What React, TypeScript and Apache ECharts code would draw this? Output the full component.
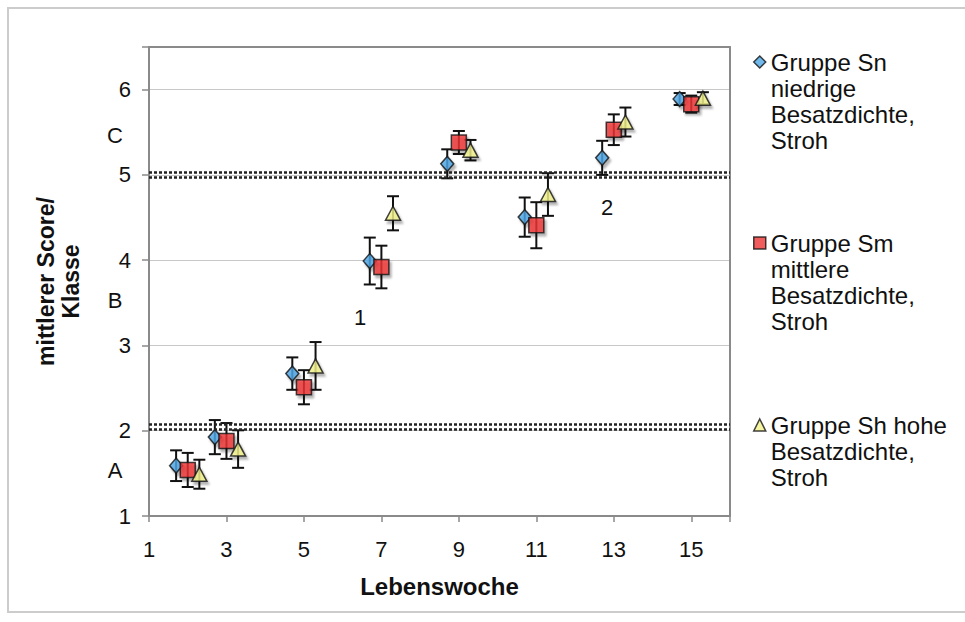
import React, { useEffect, useRef } from "react";
import * as echarts from "echarts";

// ---- data ----
const WEEKS = [2, 3, 5, 7, 9, 11, 13, 15];
const SERIES_NAMES = [
  "Gruppe Sn\nniedrige\nBesatzdichte,\nStroh",
  "Gruppe Sm\nmittlere\nBesatzdichte,\nStroh",
  "Gruppe Sh hohe\nBesatzdichte,\nStroh",
];
const SN_MEAN = [1.59, 1.925, 2.67, 3.99, 5.13, 4.505, 5.2, 5.89];
const SN_ERR = [0.18, 0.2, 0.19, 0.275, 0.17, 0.23, 0.2, 0.07];
const SM_MEAN = [1.54, 1.88, 2.51, 3.92, 5.38, 4.41, 5.53, 5.83];
const SM_ERR = [0.2, 0.21, 0.2, 0.25, 0.135, 0.27, 0.18, 0.1];
const SH_MEAN = [1.49, 1.785, 2.76, 4.55, 5.29, 4.77, 5.62, 5.9];
const SH_ERR = [0.17, 0.22, 0.28, 0.2, 0.12, 0.25, 0.17, 0.07];
const X_TICKS_HIDDEN = [16];
const Y_TICKS_HIDDEN = [6.5];
const CLASS_BOUNDARY_LINES = [5.03, 4.97, 2.08, 2.02];
const CLASS_LABELS = ["A", "B", "C"];
const NOTE_LABELS = ["1", "2"];
const NOTE_X = [6.45, 12.83];
const NOTE_Y = [3.33, 4.62];

const FONT = "'Liberation Sans', Arial, Helvetica, sans-serif";
const GROUP_OFFSET = 0.3;

export default function App() {
  const ref = useRef<HTMLDivElement>(null);
  useEffect(() => {
    if (!ref.current) return;
    const chart = echarts.init(ref.current, undefined, { renderer: "svg" });

    const means = [SN_MEAN, SM_MEAN, SH_MEAN];
    const errs = [SN_ERR, SM_ERR, SH_ERR];
    const offsets = [-GROUP_OFFSET, 0, GROUP_OFFSET];
    const symbols = ["diamond", "rect", "triangle"];
    const sizes: any[] = [[13, 15], 15, [15, 14]];
    const colors = ["#4ea6e6", "#ee3333", "#f3f38c"];

    const errSeries = means.map((m, si) => ({
      type: "custom",
      name: "err" + si,
      z: 2,
      silent: true,
      encode: { x: 0, y: [1, 2] },
      data: WEEKS.map((w, i) => [w + offsets[si], m[i] - errs[si][i], m[i] + errs[si][i]]),
      renderItem: (params: any, api: any) => {
        const x = api.value(0);
        const lo = api.value(1);
        const hi = api.value(2);
        const t = api.coord([x, hi]);
        const b = api.coord([x, lo]);
        const hw = 6;
        const st = { stroke: "#111", lineWidth: 2 };
        return {
          type: "group",
          children: [
            { type: "line", shape: { x1: t[0], y1: t[1], x2: b[0], y2: b[1] }, style: st },
            { type: "line", shape: { x1: t[0] - hw, y1: t[1], x2: t[0] + hw, y2: t[1] }, style: st },
            { type: "line", shape: { x1: b[0] - hw, y1: b[1], x2: b[0] + hw, y2: b[1] }, style: st },
          ],
        };
      },
    }));

    const scatterSeries: any[] = means.map((m, si) => ({
      type: "scatter",
      name: SERIES_NAMES[si],
      z: 3,
      symbol: symbols[si],
      symbolSize: sizes[si],
      itemStyle: {
        color: colors[si],
        borderColor: "#111",
        borderWidth: 1.5,
        shadowColor: "rgba(0,0,0,0.35)",
        shadowBlur: 2,
        shadowOffsetX: 2,
        shadowOffsetY: 3,
      },
      data: WEEKS.map((w, i) => [w + offsets[si], m[i]]),
    }));

    scatterSeries[0].markLine = {
      silent: true,
      symbol: "none",
      label: { show: false },
      lineStyle: { color: "#222", width: 2.5, type: [3, 2] },
      data: CLASS_BOUNDARY_LINES.map((v) => ({ yAxis: v })),
    };
    scatterSeries[0].markPoint = {
      silent: true,
      symbol: "circle",
      symbolSize: 0,
      label: {
        show: true,
        position: "inside",
        color: "#111",
        fontSize: 22,
        fontFamily: FONT,
        formatter: (p: any) => p.name,
      },
      data: NOTE_LABELS.map((n, i) => ({ name: n, coord: [NOTE_X[i], NOTE_Y[i]] })),
    };

    // leading blank lines keep the first text line level with the icon
    const legendFormatter = (name: string) => {
      const n = name.split("\n").length;
      return "\n".repeat(n - 1) + name;
    };
    const legendBase = {
      orient: "vertical",
      left: 753,
      padding: 0,
      itemWidth: 12,
      itemHeight: 12,
      selectedMode: false,
      formatter: legendFormatter,
      itemStyle: { shadowColor: "transparent", borderWidth: 1.5, borderColor: "#111" },
      textStyle: { fontSize: 24, lineHeight: 26, fontFamily: FONT, color: "#111" },
    };
    const LINE_H = 26;
    const iconCenters = [62, 243, 425];
    const legends = SERIES_NAMES.map((n, i) => {
      const lines = n.split("\n").length;
      const blockH = (2 * lines - 1) * LINE_H;
      return {
        ...legendBase,
        top: iconCenters[i] - blockH / 2,
        data: [{ name: n }],
      };
    });

    const classY = [470, 300, 135];

    chart.setOption({
      animation: false,
      backgroundColor: "#ffffff",
      textStyle: { fontFamily: FONT },
      grid: { left: 149, right: 235, top: 47, bottom: 106, show: true, backgroundColor: "#fff", borderWidth: 0 },
      legend: legends,
      xAxis: [
        {
          type: "value",
          min: 1,
          max: 16,
          interval: 2,
          name: "Lebenswoche",
          nameLocation: "middle",
          nameGap: 58,
          nameTextStyle: { fontSize: 24, fontWeight: "bold", color: "#111", fontFamily: FONT },
          axisLine: { show: true, lineStyle: { color: "#8a8a8a", width: 2 } },
          axisTick: { show: true, length: 6, lineStyle: { color: "#8a8a8a", width: 1.5 } },
          axisLabel: {
            margin: 22,
            fontSize: 22,
            color: "#111",
            fontFamily: FONT,
            formatter: (v: number) => (X_TICKS_HIDDEN.includes(v) ? "" : String(v)),
          },
          splitLine: { show: false },
        },
        {
          type: "value",
          position: "top",
          min: 1,
          max: 16,
          axisLine: { show: true, lineStyle: { color: "#8a8a8a", width: 2 } },
          axisTick: { show: false },
          axisLabel: { show: false },
          splitLine: { show: false },
        },
      ],
      yAxis: [
        {
          type: "value",
          min: 1,
          max: 6.5,
          interval: 1,
          name: "mittlerer Score/\nKlasse",
          nameLocation: "middle",
          nameRotate: 90,
          nameGap: 66,
          nameTextStyle: {
            fontSize: 23,
            fontWeight: "bold",
            lineHeight: 25,
            color: "#111",
            fontFamily: FONT,
            align: "center",
          },
          axisLine: { show: true, lineStyle: { color: "#8a8a8a", width: 2 } },
          axisTick: { show: true, length: 7, lineStyle: { color: "#8a8a8a", width: 1.5 } },
          axisLabel: {
            margin: 18,
            fontSize: 22,
            color: "#111",
            fontFamily: FONT,
            formatter: (v: number) => (Y_TICKS_HIDDEN.includes(v) ? "" : String(v)),
          },
          splitLine: { show: true, lineStyle: { color: "#c8c8c8", width: 1.2 } },
        },
        {
          type: "value",
          position: "right",
          min: 1,
          max: 6.5,
          axisLine: { show: true, lineStyle: { color: "#8a8a8a", width: 2 } },
          axisTick: { show: false },
          axisLabel: { show: false },
          splitLine: { show: false },
        },
      ],
      graphic: [
        {
          type: "rect",
          z: -10,
          silent: true,
          shape: { x: 8, y: 8, width: 1000, height: 604 },
          style: { fill: "none", stroke: "#cccccc", lineWidth: 2 },
        },
        ...CLASS_LABELS.map((c, i) => ({
          type: "text",
          silent: true,
          x: 115,
          y: classY[i],
          style: {
            text: c,
            fontSize: 22,
            fontFamily: FONT,
            fill: "#111",
            textAlign: "center",
            textVerticalAlign: "middle",
          },
        })),
      ],
      series: [...errSeries, ...scatterSeries],
    });

    return () => chart.dispose();
  }, []);

  return (
    <div
      ref={ref}
      style={{ position: "fixed", left: 0, top: 0, width: 965, height: 622 }}
    />
  );
}
